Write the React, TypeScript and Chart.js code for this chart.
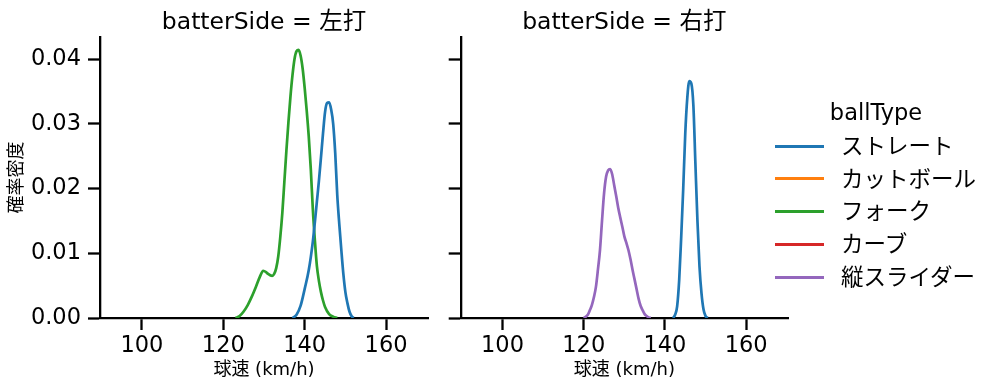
import React, { useEffect, useRef } from 'react';
import { Chart, registerables } from 'chart.js';

Chart.register(...registerables);

const FONT = '"DejaVu Sans", "Noto Sans CJK JP", sans-serif';

// ---- text ----
const panelTitles = ['batterSide = 左打', 'batterSide = 右打'];
const xAxisLabel = '球速 (km/h)';
const yAxisLabel = '確率密度';
const legendTitle = 'ballType';
const ballTypes = ['ストレート', 'カットボール', 'フォーク', 'カーブ', '縦スライダー'];
const ballColors = ['#1f77b4', '#ff7f0e', '#2ca02c', '#d62728', '#9467bd'];

// ---- ticks ----
const xTickValues = [100, 120, 140, 160];
const yTickValues = [0, 0.01, 0.02, 0.03, 0.04];
const xMin = 89.7;
const xMax = 170.3;
const yMax = 0.0434;

// ---- 左打 : ストレート ----
const leftStraightSpeed = [137, 138, 139, 140, 141, 142, 142.5, 143, 143.5, 144, 144.5, 145, 145.5, 146, 146.5, 147, 147.5, 148, 148.5, 149, 149.5, 150, 150.5, 151, 151.5, 152];
const leftStraightDensity = [0, 0.0005, 0.0019, 0.0045, 0.0074, 0.0118, 0.0148, 0.018, 0.0212, 0.0248, 0.0285, 0.0318, 0.0332, 0.0333, 0.0322, 0.03, 0.0255, 0.019, 0.0145, 0.0105, 0.0068, 0.004, 0.0023, 0.001, 0.0003, 0];

// ---- 左打 : フォーク ----
const leftForkSpeed = [123, 124, 125, 126, 127, 128, 129, 129.8, 130.5, 131, 132, 132.5, 133, 133.5, 134, 134.5, 135, 135.5, 136, 136.5, 137, 137.5, 138, 138.5, 139, 139.5, 140, 140.5, 141, 141.5, 142, 142.5, 143, 143.5, 144, 144.5, 145, 146, 147, 148];
const leftForkDensity = [0, 0.0003, 0.001, 0.002, 0.0033, 0.0048, 0.0064, 0.0073, 0.0071, 0.0068, 0.0065, 0.0068, 0.0077, 0.0095, 0.0125, 0.0162, 0.021, 0.0258, 0.0302, 0.0342, 0.0375, 0.04, 0.0412, 0.0414, 0.0405, 0.0385, 0.0355, 0.032, 0.028, 0.023, 0.0168, 0.012, 0.008, 0.0057, 0.004, 0.0027, 0.0017, 0.0006, 0.0002, 0];

// ---- 右打 : ストレート ----
const rightStraightSpeed = [142, 142.5, 143, 143.5, 144, 144.5, 145, 145.5, 146, 146.5, 147, 147.5, 148, 148.5, 149, 149.5, 150, 150.5];
const rightStraightDensity = [0, 0.0005, 0.0018, 0.0058, 0.0125, 0.02, 0.0285, 0.034, 0.0366, 0.0362, 0.0328, 0.0238, 0.015, 0.008, 0.0038, 0.0013, 0.0003, 0];

// ---- 右打 : 縦スライダー ----
const rightSliderSpeed = [120, 121, 121.5, 122, 122.5, 123, 123.5, 124, 124.5, 125, 125.5, 126, 126.5, 127, 127.5, 128, 128.5, 129, 129.5, 130, 130.5, 131, 131.5, 132, 132.5, 133, 133.5, 134, 134.5, 135, 135.5, 136, 136.5];
const rightSliderDensity = [0, 0.0005, 0.0012, 0.002, 0.0032, 0.0048, 0.0075, 0.0105, 0.015, 0.0192, 0.0218, 0.0228, 0.023, 0.0222, 0.0205, 0.0188, 0.017, 0.0155, 0.0141, 0.0126, 0.0116, 0.0105, 0.0091, 0.0075, 0.006, 0.0045, 0.003, 0.0019, 0.0012, 0.0006, 0.0003, 0.0001, 0];

type Series = { typeIndex: number; speed: number[]; density: number[] };

const leftSeries: Series[] = [
  { typeIndex: 0, speed: leftStraightSpeed, density: leftStraightDensity },
  { typeIndex: 2, speed: leftForkSpeed, density: leftForkDensity },
];
const rightSeries: Series[] = [
  { typeIndex: 0, speed: rightStraightSpeed, density: rightStraightDensity },
  { typeIndex: 4, speed: rightSliderSpeed, density: rightSliderDensity },
];

const panelTitlePlugin = {
  id: 'panelTitle',
  afterDraw(chart: any, _args: any, opts: any) {
    const { ctx, chartArea } = chart;
    ctx.save();
    ctx.font = `23.5px ${FONT}`;
    ctx.fillStyle = '#000';
    ctx.textAlign = 'center';
    ctx.textBaseline = 'alphabetic';
    ctx.fillText(opts.text, (chartArea.left + chartArea.right) / 2, opts.y);
    ctx.restore();
  },
};

function makeConfig(series: Series[], title: string, yAxisWidth: number, showYLabels: boolean): any {
  return {
    type: 'line',
    data: {
      datasets: series.map((s) => ({
        label: ballTypes[s.typeIndex],
        data: s.speed.map((x, i) => ({ x, y: s.density[i] })),
        borderColor: ballColors[s.typeIndex],
        backgroundColor: ballColors[s.typeIndex],
        borderWidth: 2.7,
        pointRadius: 0,
        fill: false,
        cubicInterpolationMode: 'monotone',
      })),
    },
    options: {
      animation: false,
      responsive: false,
      maintainAspectRatio: false,
      layout: { padding: { top: 37, right: 12, bottom: 0, left: 0 } },
      plugins: {
        legend: { display: false },
        tooltip: { enabled: false },
        panelTitle: { text: title, y: 28.5 },
      },
      scales: {
        x: {
          type: 'linear',
          min: xMin,
          max: xMax,
          afterBuildTicks: (s: any) => {
            s.ticks = xTickValues.map((v) => ({ value: v }));
          },
          afterFit: (s: any) => {
            s.height = 73;
          },
          ticks: {
            font: { family: FONT, size: 22.5 },
            color: '#000',
            padding: 3,
            maxRotation: 0,
            autoSkip: false,
            callback: (v: any) => String(v),
          },
          grid: {
            drawOnChartArea: false,
            drawTicks: true,
            tickLength: 12,
            tickWidth: 2.3,
            tickColor: '#000',
          },
          border: { display: true, color: '#000', width: 2.3 },
          title: {
            display: true,
            text: xAxisLabel,
            font: { family: FONT, size: 18 },
            color: '#000',
            padding: { top: 0, bottom: 9.7 },
          },
        },
        y: {
          type: 'linear',
          min: 0,
          max: yMax,
          afterBuildTicks: (s: any) => {
            s.ticks = yTickValues.map((v) => ({ value: v }));
          },
          afterFit: (s: any) => {
            s.width = yAxisWidth;
          },
          ticks: {
            font: { family: FONT, size: 22.5 },
            color: '#000',
            padding: 7,
            autoSkip: false,
            callback: (v: any) => (showYLabels ? Number(v).toFixed(2) : ''),
          },
          grid: {
            drawOnChartArea: false,
            drawTicks: true,
            tickLength: 12,
            tickWidth: 2.3,
            tickColor: '#000',
          },
          border: { display: true, color: '#000', width: 2.3 },
          title: {
            display: showYLabels,
            text: yAxisLabel,
            font: { family: FONT, size: 18 },
            color: '#000',
            padding: { top: 6.7, bottom: 0 },
          },
        },
      },
    },
    plugins: [panelTitlePlugin],
  };
}

function Panel(props: { series: Series[]; title: string; left: number; width: number; yAxisWidth: number; showYLabels: boolean }) {
  const ref = useRef<HTMLCanvasElement>(null);
  useEffect(() => {
    const chart = new Chart(ref.current as HTMLCanvasElement, makeConfig(props.series, props.title, props.yAxisWidth, props.showYLabels));
    return () => chart.destroy();
  }, []);
  return (
    <canvas
      ref={ref}
      width={props.width}
      height={391}
      style={{ position: 'absolute', left: props.left, top: 0, width: props.width, height: 391, display: 'block' }}
    />
  );
}

function Legend() {
  return (
    <div style={{ position: 'absolute', left: 0, top: 0, width: 997, height: 391, pointerEvents: 'none', fontFamily: FONT, color: '#000' }}>
      <div style={{ position: 'absolute', left: 776, width: 200, top: 97.5, textAlign: 'center', fontSize: 22.5, lineHeight: '28px', whiteSpace: 'nowrap' }}>
        {legendTitle}
      </div>
      {ballTypes.map((name, i) => (
        <div
          key={name}
          style={{ position: 'absolute', left: 775, top: 146 + i * 32.8 - 16, height: 32, display: 'flex', alignItems: 'center', whiteSpace: 'nowrap' }}
        >
          <div style={{ width: 49, height: 3, background: ballColors[i], marginRight: 17 }} />
          <span style={{ fontSize: 22.5, lineHeight: 1 }}>{name}</span>
        </div>
      ))}
    </div>
  );
}

export default function App() {
  return (
    <div style={{ position: 'absolute', left: 0, top: 0, width: 997, height: 391, background: '#fff', overflow: 'hidden' }}>
      <Panel series={leftSeries} title={panelTitles[0]} left={0} width={440} yAxisWidth={100} showYLabels={true} />
      <Panel series={rightSeries} title={panelTitles[1]} left={440} width={360} yAxisWidth={20.7} showYLabels={false} />
      <Legend />
    </div>
  );
}
